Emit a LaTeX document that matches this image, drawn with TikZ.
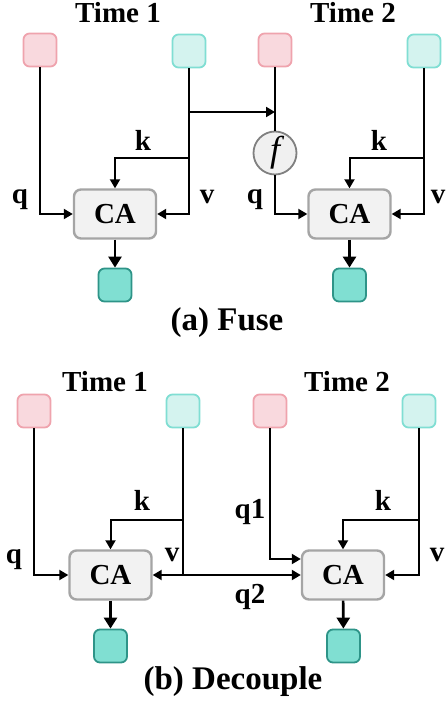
\documentclass[tikz,border=0pt]{standalone}
\usepackage{fontspec}
\setmainfont{Liberation Serif}
\usepackage{xcolor}
\definecolor{cQ}{HTML}{F9D9DE}
\definecolor{cQLine}{HTML}{EFA3AD}
\definecolor{cKV}{HTML}{D4F3EF}
\definecolor{cKVLine}{HTML}{80DED3}
\definecolor{cOut}{HTML}{80DFD2}
\definecolor{cOutLine}{HTML}{2E9488}
\definecolor{cCA}{HTML}{F2F2F2}
\definecolor{cCALine}{HTML}{A5A5A5}
\definecolor{cFuse}{HTML}{F0F0F0}
\definecolor{cFuseLine}{HTML}{808080}
\usepackage{tikz}
\usetikzlibrary{arrows.meta}
\newcommand{\lblfont}{\fontsize{29}{30}\selectfont\bfseries}
\newcommand{\capfont}{\fontsize{33}{34}\selectfont\bfseries}
\tikzset{
  node-tok/.style={line width=1.8pt,rounded corners=6pt,minimum size=33pt,inner sep=0pt},
  node-q/.style={node-tok,draw=cQLine,fill=cQ},
  node-kv/.style={node-tok,draw=cKVLine,fill=cKV},
  node-out/.style={node-tok,draw=cOutLine,fill=cOut},
  node-ca/.style={draw=cCALine,fill=cCA,line width=2.4pt,rounded corners=7pt,
    minimum width=82pt,minimum height=49pt,inner sep=0pt,font=\lblfont},
  node-fuse/.style={circle,draw=cFuseLine,fill=cFuse,line width=1.8pt,
    minimum size=43pt,inner sep=0pt,font=\fontsize{36}{36}\selectfont\itshape},
  lbl/.style={font=\lblfont},
  caption/.style={font=\capfont},
  arrow/.style={-{Triangle[length=9pt,width=10pt]},line width=2pt,draw=black},
  arrow-out/.style={-{Triangle[length=11pt,width=13pt]},line width=2.6pt,draw=black},
}

\begin{document}
\begin{tikzpicture}[x=1pt,y=1pt]
  \useasboundingbox (0,0) rectangle (446,-704);
  % (a) Fuse
  \node[lbl] (tA1) at (118,-13) {Time 1};
  \node[lbl] (tA2) at (353,-13) {Time 2};
  \node[node-q]  (qA1)  at (40,-50)  {};
  \node[node-kv] (kvA1) at (189,-51) {};
  \node[node-q]  (qA2)  at (275,-50) {};
  \node[node-kv] (kvA2) at (424,-51) {};
  \node[node-fuse] (fuse) at (275,-153) {\raisebox{-2pt}{f}};
  \node[node-ca] (caA1) at (115,-214) {CA};
  \node[node-ca] (caA2) at (349.5,-214) {CA};
  \node[node-out] (outA1) at (115,-285) {};
  \node[node-out] (outA2) at (349.5,-285) {};
  \coordinate (jA) at (189,-112);
  \coordinate (kA1) at (189,-158);
  \coordinate (kA2) at (424,-158);
  \draw[arrow] (qA1) |- (caA1);
  \draw[arrow] (kvA1) |- (caA1);
  \draw[arrow] (kA1) -| (caA1);
  \draw[arrow] (jA) -- (jA -| qA2);
  \draw[line width=2pt] (qA2) -- (fuse);
  \draw[arrow] (fuse) |- (caA2);
  \draw[arrow] (kvA2) |- (caA2);
  \draw[arrow] (kA2) -| (caA2);
  \draw[arrow-out] (caA1) -- (outA1);
  \draw[arrow-out] (caA2) -- (outA2);
  \node[lbl] at (20,-200) {q};
  \node[lbl] at (143,-140) {k};
  \node[lbl] at (207,-197) {v};
  \node[lbl] at (255,-200) {q};
  \node[lbl] at (379,-140) {k};
  \node[lbl] at (438,-197) {v};
  \node[caption] (capA) at (227,-323) {(a) Fuse};
  % (b) Decouple
  \node[lbl] (tB1) at (105,-382) {Time 1};
  \node[lbl] (tB2) at (347,-382) {Time 2};
  \node[node-q]  (qB1)  at (34,-411)  {};
  \node[node-kv] (kvB1) at (183,-411) {};
  \node[node-q]  (qB2)  at (270,-411) {};
  \node[node-kv] (kvB2) at (419,-411) {};
  \node[node-ca] (caB1) at (110.5,-575) {CA};
  \node[node-ca] (caB2) at (343,-575) {CA};
  \node[node-out] (outB1) at (110.5,-646) {};
  \node[node-out] (outB2) at (343.5,-646) {};
  \coordinate (kB1) at (183,-520);
  \coordinate (kB2) at (419,-520);
  \coordinate (vB1) at (183,-575);
  \draw[arrow] (qB1) |- (caB1);
  \draw[arrow] (kvB1) |- (caB1);
  \draw[arrow] (kB1) -| (caB1);
  \draw[arrow] (vB1) -- (caB2);
  \draw[arrow] (qB2) |- ([yshift=16pt]caB2.west);
  \draw[arrow] (kvB2) |- (caB2);
  \draw[arrow] (kB2) -| (caB2);
  \draw[arrow-out] (caB1) -- (outB1);
  \draw[arrow-out] (caB2) -- (outB2);
  \node[lbl] at (14,-560) {q};
  \node[lbl] at (142,-500) {k};
  \node[lbl] at (172,-555) {v};
  \node[lbl] at (250,-512) {q1};
  \node[lbl] at (250,-597) {q2};
  \node[lbl] at (383,-500) {k};
  \node[lbl] at (437,-555) {v};
  \node[caption] (capB) at (233,-682) {(b) Decouple};
\end{tikzpicture}
\end{document}
